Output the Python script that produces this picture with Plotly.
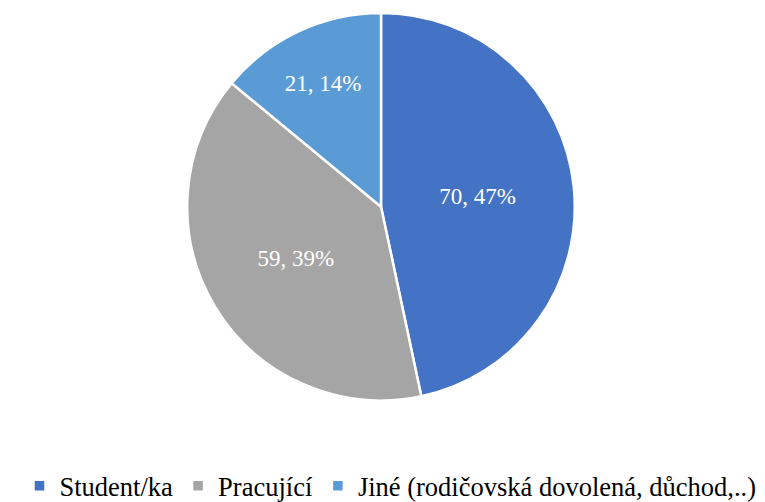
import plotly.graph_objects as go

## Data
labels = ["Student/ka", "Pracující", "Jiné (rodičovská dovolená, důchod,..)"]
values = [70, 59, 21]
colors = ["#4472C4", "#A5A5A5", "#5B9BD5"]

fig = go.Figure(go.Pie(
    labels=labels,
    values=values,
    sort=False,
    direction="clockwise",
    rotation=0,
    marker=dict(colors=colors, line=dict(color="white", width=2.5)),
    texttemplate="%{value}, %{percent:.0%}",
    textposition="inside",
    insidetextorientation="horizontal",
    insidetextfont=dict(family="Liberation Serif", size=23, color="white"),
    hoverinfo="label+value+percent",
    domain=dict(x=[177 / 765, 569 / 765], y=[1 - 398 / 502, 1 - 5 / 502]),
))

fig.update_layout(
    width=765,
    height=502,
    margin=dict(l=0, r=0, t=0, b=0),
    paper_bgcolor="white",
    plot_bgcolor="white",
    font=dict(family="Liberation Serif", color="#000000"),
    legend=dict(
        orientation="h",
        x=0.5,
        xanchor="center",
        y=-0.015,
        yanchor="bottom",
        font=dict(size=26.5, family="Liberation Serif"),
        itemwidth=30,
    ),
)

fig.write_html("out.html")
